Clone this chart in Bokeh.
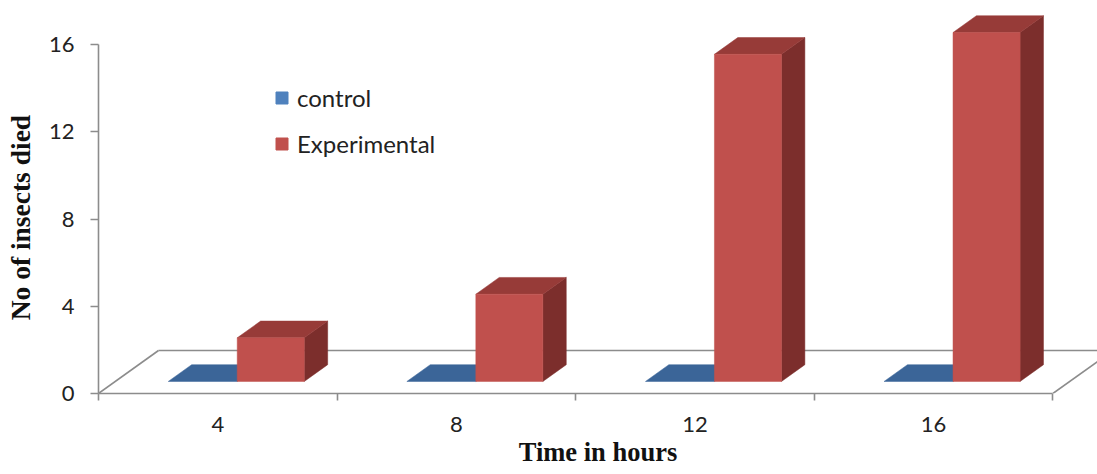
from bokeh.plotting import figure
from bokeh.models import Range1d, FixedTicker, Legend, LegendItem
from bokeh.embed import file_html
from bokeh.resources import INLINE

# ---- data ----
hours = ["4", "8", "12", "16"]
control = [0, 0, 0, 0]
experimental = [2, 4, 15, 16]
y_ticks = [0, 4, 8, 12, 16]
x_title = "Time in hours"
y_title = "No of insects died"
series_names = ["control", "Experimental"]

# ---- layout / style ----
W, H = 1097, 474
LEFT, BOTTOM = 98, 81
PX_X = 238.6   # pixels per category
PX_Y = 21.81   # pixels per value unit
x_end = (W - LEFT) / PX_X
y_end = (H - BOTTOM) / PX_Y

DX = 60 / PX_X      # floor depth offset (x)
DY = 43 / PX_Y      # floor depth offset (y)
D_FRONT, D_BACK = 0.28, 0.67
BLUE_U = (0.222, 0.511)
RED_U = (0.511, 0.792)

GRAY = "#8c8c8c"
BLUE_TOP = "#3b6598"
BLUE_LEG = "#4f81bd"
RED_FRONT = "#c0504d"
RED_TOP = "#973b38"
RED_SIDE = "#7c2e2c"


def pt(u, d, v):
    return (u + d * DX, v + d * DY)


def poly(points):
    xs = [pt(*q)[0] for q in points]
    ys = [pt(*q)[1] for q in points]
    return xs, ys


p = figure(width=W, height=H, output_backend="svg", toolbar_location=None,
           x_range=Range1d(0, x_end), y_range=Range1d(0, y_end),
           min_border_left=LEFT, min_border_bottom=BOTTOM,
           min_border_top=0, min_border_right=0)
p.outline_line_color = None
p.grid.visible = False
p.background_fill_color = "white"
p.border_fill_color = "white"

n = len(hours)

# floor
for seg in ([(0, 0, 0), (0, 1, 0)], [(0, 1, 0), (n, 1, 0)], [(n, 0, 0), (n, 1, 0)]):
    fx, fy = poly(seg)
    p.line(fx, fy, line_color=GRAY, line_width=1.6)

# control bars (flat, value 0)
bxs, bys = [], []
for i, v in enumerate(control):
    u0, u1 = i + BLUE_U[0], i + BLUE_U[1]
    xs, ys = poly([(u0, D_FRONT, v), (u1, D_FRONT, v), (u1, D_BACK, v), (u0, D_BACK, v)])
    bxs.append(xs); bys.append(ys)
p.patches(bxs, bys, fill_color=BLUE_TOP, line_color=BLUE_TOP, line_width=0.5)

# experimental bars
fr_x, fr_y, tp_x, tp_y, sd_x, sd_y = [], [], [], [], [], []
for i, v in enumerate(experimental):
    u0, u1 = i + RED_U[0], i + RED_U[1]
    xs, ys = poly([(u0, D_FRONT, 0), (u1, D_FRONT, 0), (u1, D_FRONT, v), (u0, D_FRONT, v)])
    fr_x.append(xs); fr_y.append(ys)
    xs, ys = poly([(u0, D_FRONT, v), (u1, D_FRONT, v), (u1, D_BACK, v), (u0, D_BACK, v)])
    tp_x.append(xs); tp_y.append(ys)
    xs, ys = poly([(u1, D_FRONT, 0), (u1, D_BACK, 0), (u1, D_BACK, v), (u1, D_FRONT, v)])
    sd_x.append(xs); sd_y.append(ys)
p.patches(sd_x, sd_y, fill_color=RED_SIDE, line_color=RED_SIDE, line_width=0.5)
p.patches(tp_x, tp_y, fill_color=RED_TOP, line_color=RED_TOP, line_width=0.5)
p.patches(fr_x, fr_y, fill_color=RED_FRONT, line_color=RED_FRONT, line_width=0.5)

# legend swatches
leg_b = p.patches(xs=[[]], ys=[[]], fill_color=BLUE_LEG, line_color=BLUE_LEG)
leg_r = p.patches(xs=[[]], ys=[[]], fill_color=RED_FRONT, line_color=RED_FRONT)
legend = Legend(items=[LegendItem(label=series_names[0], renderers=[leg_b]),
                       LegendItem(label=series_names[1], renderers=[leg_r])],
                location=(176, 235), padding=0, margin=0, spacing=17,
                glyph_width=15, glyph_height=15, label_height=15,
                label_standoff=8, border_line_color=None,
                background_fill_alpha=0,
                label_text_font="Lato", label_text_font_size="24px",
                label_text_color="#222222")
p.add_layout(legend)

# axes
xa = p.xaxis[0]
xa.ticker = FixedTicker(ticks=[i + 0.5 for i in range(n)], minor_ticks=list(range(n + 1)))
xa.major_label_overrides = {i + 0.5: h for i, h in enumerate(hours)}
xa.bounds = (0, n)
xa.major_tick_line_color = None
xa.minor_tick_line_color = GRAY
xa.minor_tick_line_width = 1.6
xa.minor_tick_out = 7
xa.minor_tick_in = 0
xa.axis_line_color = GRAY
xa.axis_line_width = 1.6
xa.major_label_standoff = 16
xa.major_label_text_font = "Lato"
xa.major_label_text_font_size = "22px"
xa.major_label_text_color = "#222222"
xa.axis_label = x_title
xa.axis_label_text_font = "Liberation Serif"
xa.axis_label_text_font_style = "bold"
xa.axis_label_text_font_size = "26.5px"
xa.axis_label_text_color = "#111111"
xa.axis_label_standoff = 2

ya = p.yaxis[0]
ya.ticker = FixedTicker(ticks=y_ticks, minor_ticks=[])
ya.bounds = (0, y_ticks[-1])
ya.major_tick_line_color = GRAY
ya.major_tick_line_width = 1.6
ya.major_tick_out = 8
ya.major_tick_in = 0
ya.minor_tick_line_color = None
ya.axis_line_color = GRAY
ya.axis_line_width = 1.6
ya.major_label_standoff = 16
ya.major_label_text_font = "Lato"
ya.major_label_text_font_size = "22px"
ya.major_label_text_color = "#222222"
# trailing no-break spaces centre the visible title on the 0-16 axis rather than the frame
ya.axis_label = y_title + "\u00a0" * 6
ya.axis_label_text_font = "Liberation Serif"
ya.axis_label_text_font_style = "bold"
ya.axis_label_text_font_size = "27.5px"
ya.axis_label_text_color = "#111111"
ya.axis_label_standoff = 10

open("out.html", "w").write(file_html(p, INLINE))
